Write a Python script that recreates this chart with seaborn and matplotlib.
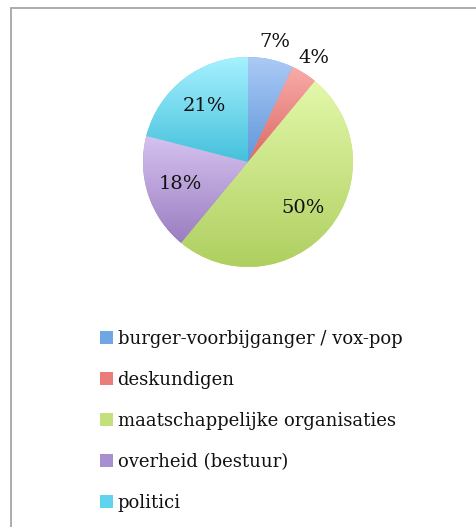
import numpy as np
import seaborn as sns
import matplotlib.pyplot as plt
from matplotlib.colors import LinearSegmentedColormap
from matplotlib.patches import Patch

# data
categories = ['burger-voorbijganger / vox-pop', 'deskundigen',
              'maatschappelijke organisaties', 'overheid (bestuur)', 'politici']
shares = [7, 4, 50, 18, 21]

# colours: top of gradient, bottom of gradient, legend swatch
top_colors = ['#abcaf6', '#f8aca9', '#e3f8aa', '#d6c3f0', '#a6f1ff']
bottom_colors = ['#5f97d9', '#de6864', '#afcf60', '#9a7dc0', '#44c1db']
swatch_colors = ['#6fa6e3', '#ea7d7a', '#c3e07f', '#a88fd0', '#5fd4ec']

sns.set_theme(style='white')
plt.rcParams['font.family'] = ['DejaVu Serif']
plt.rcParams['text.color'] = '#111111'

W, H = 476, 527
fig = plt.figure(figsize=(W / 100, H / 100), dpi=100)

# pie axes: centre (248, 162) px, radius 105 px
cx, cy, r = 248, 162, 105
ax = fig.add_axes([(cx - r) / W, 1 - (cy + r) / H, 2 * r / W, 2 * r / H])

wedges, _ = ax.pie(shares, colors=swatch_colors, startangle=90, counterclock=False,
                   wedgeprops=dict(linewidth=0))
ax.set_aspect('equal')
ax.axis('off')

# vertical gradient inside each wedge
for w, c_top, c_bot in zip(wedges, top_colors, bottom_colors):
    ext = w.get_path().get_extents()
    cmap = LinearSegmentedColormap.from_list('g', [c_bot, c_top])
    grad = np.linspace(0, 1, 256).reshape(-1, 1)
    im = ax.imshow(grad, cmap=cmap, origin='lower', aspect='auto',
                   extent=[ext.x0, ext.x1, ext.y0, ext.y1], zorder=w.get_zorder() + 0.1)
    im.set_clip_path(w)
ax.set_xlim(-1, 1)
ax.set_ylim(-1, 1)

# percentage labels
total = sum(shares)
start = 90.0
for val in shares:
    frac = val / total
    mid = np.deg2rad(start - frac * 360 / 2)
    start -= frac * 360
    dist = 1.17 if frac < 0.1 else 0.68
    ax.text(dist * np.cos(mid), dist * np.sin(mid), f'{val}%',
            ha='center', va='center', fontsize=14, color='#111111', zorder=10)

# legend
handles = [Patch(facecolor=c, edgecolor='none') for c in swatch_colors]
fig.legend(handles, categories, loc='upper left',
           bbox_to_anchor=(100 / W, 1 - 330 / H), frameon=False,
           fontsize=13, handlelength=0.7, handleheight=0.7,
           handletextpad=0.27, labelspacing=1.27, borderpad=0, borderaxespad=0,
           labelcolor='#111111')

# outer frame (only top and left edges fall inside the picture)
fig.add_artist(plt.Line2D([10.5 / W, 10.5 / W], [0, 1 - 8 / H], color='#a6a6a6', lw=1.3,
                          transform=fig.transFigure))
fig.add_artist(plt.Line2D([10.5 / W, 1], [1 - 8 / H, 1 - 8 / H], color='#a6a6a6', lw=1.3,
                          transform=fig.transFigure))

fig.savefig('out.png', dpi=100, facecolor='white')
